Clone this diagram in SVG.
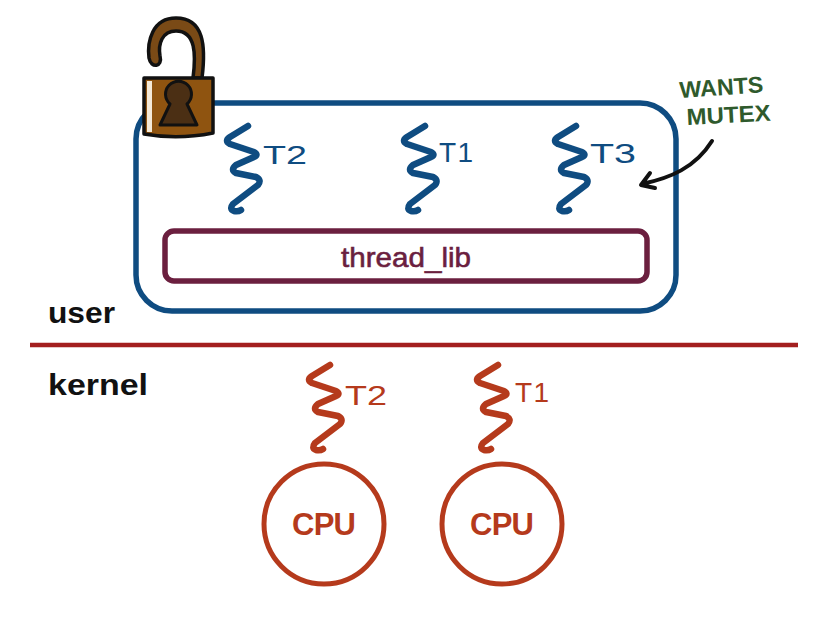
<svg xmlns="http://www.w3.org/2000/svg" width="837" height="618" viewBox="0 0 837 618">
<style>
.sq{fill:none;stroke-width:6.5;stroke-linecap:round;stroke-linejoin:round}
.blue{stroke:#0f4c81}
.red{stroke:#b53a1c}
.tb{fill:#0f4c81}
.tr{fill:#b53a1c}
.hand{font-family:"Liberation Sans",sans-serif;font-size:28px;font-weight:400}
.lab{font-family:"Liberation Sans",sans-serif;font-weight:700;font-size:30px;fill:#111}
.cpu{font-family:"Liberation Sans",sans-serif;font-weight:700;font-size:31px;fill:#b53a1c;text-anchor:middle}
.green{font-family:"Liberation Sans",sans-serif;font-weight:700;font-size:23px;fill:#2f5a2c}
</style>
<defs>
<path id="squig" d="M0 0L-18 11Q-24 15-18 18L6 26Q11 29 6 31L-12 39Q-18 44-12 47L8 51Q14 54 10 59L-15 78Q-19 83-14 85Q-10 86-7 84"/>
</defs>
<rect width="837" height="618" fill="#fff"/>
<g id="process"><rect x="136" y="103" width="540" height="208" rx="36" fill="none" stroke="#0f4c81" stroke-width="5.5"/></g>
<g id="thread-lib"><rect x="165" y="231" width="482" height="50" rx="9" fill="none" stroke="#6b1f3f" stroke-width="5.5"/><text x="406" y="267" text-anchor="middle" font-family="'Liberation Sans',sans-serif" font-size="28" textLength="130" lengthAdjust="spacingAndGlyphs" fill="#6b1f3f" stroke="#6b1f3f" stroke-width=".6">thread_lib</text></g>
<g id="user-t2"><use href="#squig" x="248" y="126" class="sq blue"/><text x="263" y="164" class="hand tb" style="font-size:25px" textLength="44" lengthAdjust="spacingAndGlyphs">T2</text></g>
<g id="user-t1"><use href="#squig" x="425" y="126" class="sq blue"/><text x="439" y="162" class="hand tb" textLength="34" lengthAdjust="spacing">T1</text></g>
<g id="user-t3"><use href="#squig" x="576" y="126" class="sq blue"/><text x="590" y="163" class="hand tb" textLength="46" lengthAdjust="spacingAndGlyphs">T3</text></g>
<g id="label-user"><text x="48" y="323" class="lab" textLength="67" lengthAdjust="spacingAndGlyphs">user</text></g>
<g id="label-kernel"><text x="48" y="395" class="lab" textLength="100" lengthAdjust="spacingAndGlyphs">kernel</text></g>
<g id="divider"><line x1="30" y1="345" x2="798" y2="345" stroke="#a31f1f" stroke-width="4.5"/></g>
<g id="kernel-t2"><use href="#squig" x="330" y="365" class="sq red"/><text x="345" y="405" class="hand tr" textLength="42" lengthAdjust="spacingAndGlyphs">T2</text></g>
<g id="kernel-t1"><use href="#squig" x="498" y="365" class="sq red"/><text x="515" y="402" class="hand tr" textLength="34" lengthAdjust="spacing">T1</text></g>
<g id="cpu-1"><circle cx="324" cy="524" r="60" fill="none" stroke="#b53a1c" stroke-width="5"/><text x="324" y="535" class="cpu" textLength="64" lengthAdjust="spacing">CPU</text></g>
<g id="cpu-2"><circle cx="502" cy="524" r="60" fill="none" stroke="#b53a1c" stroke-width="5"/><text x="502" y="535" class="cpu" textLength="64" lengthAdjust="spacing">CPU</text></g>
<g id="wants-mutex"><text x="680" y="98" class="green" textLength="84" lengthAdjust="spacingAndGlyphs" transform="rotate(-4 680 98)">WANTS</text><text x="687" y="125" class="green" textLength="84" lengthAdjust="spacingAndGlyphs" transform="rotate(-3 687 125)">MUTEX</text></g>
<g id="connectors"><path d="M712 141C695 168 670 178 642 184M650 173L641 185L655 188" fill="none" stroke="#111" stroke-width="4" stroke-linecap="round" stroke-linejoin="round"/></g>
<g id="lock">
<path d="M202 78C206 46 204 18 176 18C152 18 147 42 149 58C151 69 163 67 160 56C158 44 162 31 176 31C196 31 196 55 193 78Z" fill="#7a4a16" stroke="#111" stroke-width="3.5" stroke-linejoin="round"/>
<path d="M144 78H213V133Q178 140 144 134Z" fill="#8f5410" stroke="#111" stroke-width="3.5" stroke-linejoin="round"/>
<rect x="147" y="81" width="5" height="51" fill="#f5ead8"/>
<path d="M170 104A13 13 0 1 1 187 104L197 125H160Z" fill="#4b2f14" stroke="#111" stroke-width="3" stroke-linejoin="round"/>
</g>
</svg>
